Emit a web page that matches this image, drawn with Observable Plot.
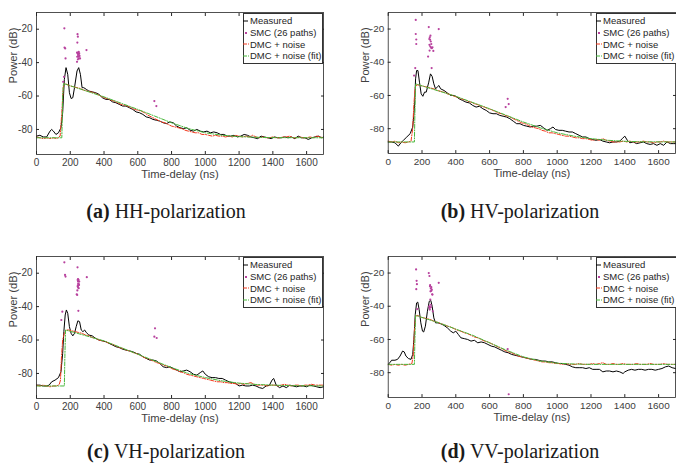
<!DOCTYPE html>
<html><head><meta charset="utf-8">
<script src="https://cdn.jsdelivr.net/npm/d3@7"></script>
<script src="https://cdn.jsdelivr.net/npm/@observablehq/plot@0.6"></script>
<style>
html,body{margin:0;padding:0;background:#fff;}
#wrap{position:relative;width:676px;height:466px;overflow:hidden;background:#fff;font-family:"Liberation Sans",Arial,sans-serif;}
.panel{position:absolute;}
.legend{position:absolute;box-sizing:border-box;background:#fff;border:1px solid #333;font-size:9.5px;color:#262626;padding-top:1px;white-space:nowrap;}
.legend .row{display:flex;align-items:center;height:11.7px;}
.legend svg{flex:none;}
.cap{position:absolute;font-family:"Liberation Serif","Times New Roman",serif;font-size:20px;line-height:20px;color:#1a1a1a;white-space:nowrap;transform:translateX(-50%);}
</style>
</head><body><div id="wrap"></div>
<script>
const xTicks = [0,200,400,600,800,1000,1200,1400,1600];
const yTicks = [-80,-60,-40,-20];
const legendLabels = ["Measured","SMC (26 paths)","DMC + noise","DMC + noise (fit)"];
const captionLetters = ["(a)","(b)","(c)","(d)"];
const captionTexts = ["HH-polarization","HV-polarization","VH-polarization","VV-polarization"];

// ---- (a) HH ----
const measuredHH = [[0,-84],[20,-83.5],[40,-84.5],[60,-84.5],[80,-81],[90,-80],[100,-81],[115,-83],[130,-82],[145,-79],[155,-70],[165,-50],[175,-43],[185,-47],[195,-58],[205,-61.5],[215,-61],[225,-55],[240,-45],[250,-43],[260,-47],[270,-55],[280,-55],[295,-56],[310,-57],[330,-57.5],[350,-58],[370,-59],[390,-61],[410,-62],[430,-62],[450,-63.5],[470,-64],[490,-65],[510,-66],[530,-66],[550,-67],[570,-68],[590,-69.5],[610,-70],[630,-71],[650,-72.5],[670,-73],[690,-74],[710,-74.5],[730,-75],[750,-76],[770,-76.5],[790,-75.5],[810,-76],[830,-78],[850,-79],[870,-79.5],[890,-79],[910,-80.5],[930,-81],[950,-80],[970,-81],[990,-81.5],[1010,-81],[1030,-82],[1050,-81.5],[1070,-82],[1090,-83],[1110,-83],[1130,-84],[1150,-84],[1170,-83.5],[1190,-84.5],[1210,-84],[1230,-83],[1250,-83.5],[1270,-84.5],[1290,-85],[1310,-85.5],[1330,-84],[1350,-84.5],[1370,-85],[1390,-85.5],[1410,-84.5],[1430,-85],[1450,-85],[1470,-84.5],[1490,-85],[1510,-84.5],[1530,-85.5],[1550,-84],[1570,-85],[1590,-85],[1610,-86],[1630,-85],[1650,-84.5],[1670,-84],[1690,-85],[1700,-84.5]];
const dmcHH = [[0,-84.5],[20,-85],[40,-85.5],[60,-85],[80,-85.5],[100,-85],[120,-85.5],[140,-84],[150,-70],[158,-55],[165,-52.5],[180,-53],[200,-54],[220,-54.5],[240,-55],[260,-55.5],[280,-56.5],[300,-57],[320,-57.5],[340,-58],[360,-59],[380,-60],[400,-61],[420,-61.5],[440,-62.5],[460,-63],[480,-64],[500,-65],[520,-65.5],[540,-66],[560,-67],[580,-68],[600,-68.5],[620,-69],[640,-70],[660,-71.5],[680,-72.5],[700,-73.5],[720,-74.5],[740,-75.5],[760,-76],[780,-77],[800,-78],[820,-78.5],[840,-79],[860,-79.5],[880,-80.5],[900,-81],[920,-81.5],[940,-82],[960,-82],[980,-83],[1000,-83],[1020,-83.5],[1040,-84],[1060,-83.5],[1080,-84],[1100,-84],[1120,-84.5],[1140,-84],[1160,-84.5],[1180,-83.5],[1200,-84],[1220,-84.5],[1240,-84],[1260,-84.5],[1280,-83.5],[1300,-84.5],[1320,-85],[1340,-84.5],[1360,-85],[1380,-85],[1400,-84.5],[1420,-85],[1440,-85],[1460,-84.5],[1480,-84.5],[1500,-84],[1520,-85],[1540,-85],[1560,-84.5],[1580,-85],[1600,-85],[1620,-84.5],[1640,-85],[1660,-84],[1680,-84.5],[1700,-85]];
const fitHH = [[0,-85],[150,-85],[155,-60],[160,-52.5],[400,-60.5],[600,-68],[700,-72],[800,-76],[900,-79.5],[1000,-82],[1100,-83.5],[1200,-84.3],[1300,-84.7],[1400,-84.9],[1700,-85]];
const smcHH = [[165,-19.5],[166,-31],[170,-31.5],[172,-37.5],[158,-51.5],[163,-48.5],[243,-23],[245,-24.5],[242,-28],[240,-34],[244,-34.5],[248,-34],[250,-35],[253,-34.5],[246,-35.5],[241,-36.5],[245,-38],[252,-37.5],[240,-39.5],[258,-37.5],[296,-32.5],[250,-33.5],[255,-36],[248,-36.5],[698,-63],[710,-66]];

// ---- (b) HV ----
const measuredHV = [[0,-88],[20,-88],[40,-88.5],[60,-90.5],[75,-88.5],[90,-87],[110,-85],[130,-83],[145,-79],[155,-68],[162,-50],[168,-45],[176,-45],[185,-52],[195,-59],[205,-60.5],[215,-58],[225,-58],[240,-52],[250,-47],[260,-48.5],[270,-53],[280,-56],[290,-55],[300,-54],[310,-56],[330,-57],[350,-58.5],[370,-60],[390,-60],[400,-60.5],[420,-62],[440,-63],[460,-64],[480,-64.5],[500,-66],[520,-67],[540,-66.5],[560,-68],[580,-69],[600,-70.5],[620,-71],[640,-71],[660,-72],[680,-72.5],[700,-73],[720,-74],[740,-75.5],[760,-77],[780,-77],[800,-78],[820,-78.5],[840,-79],[860,-78.5],[880,-78.5],[900,-78],[920,-79.5],[940,-81],[960,-80],[975,-79],[990,-80.5],[1010,-81],[1030,-81],[1050,-81.5],[1070,-82],[1090,-82],[1110,-83],[1130,-84],[1150,-85],[1170,-85],[1190,-86],[1210,-86.5],[1230,-87],[1250,-86.5],[1270,-87.5],[1290,-88],[1310,-88.5],[1330,-88],[1350,-88],[1370,-87.5],[1385,-86],[1400,-84.5],[1415,-87],[1430,-88.5],[1450,-88],[1470,-89],[1490,-88.5],[1510,-88],[1530,-89],[1550,-89.5],[1570,-89],[1590,-90],[1610,-89],[1630,-90],[1650,-88],[1670,-89],[1690,-89],[1700,-89]];
const dmcHV = [[0,-87.5],[20,-88],[40,-87.5],[60,-88.5],[80,-88],[100,-88.5],[120,-88],[135,-87.5],[145,-80],[152,-65],[160,-55],[170,-53.5],[190,-54],[210,-54.5],[230,-55],[250,-55.5],[270,-56],[290,-57],[310,-57.5],[330,-58],[350,-59],[370,-59.5],[390,-60.5],[410,-61],[430,-62],[450,-62.5],[470,-63.5],[490,-64],[510,-65],[530,-65.5],[550,-66.5],[570,-67],[590,-68],[610,-68.5],[630,-69.5],[650,-70.5],[670,-71],[690,-72],[710,-72.5],[730,-73.5],[750,-74.5],[770,-75.5],[790,-76.5],[810,-77],[830,-78],[850,-79],[870,-79.5],[890,-80],[910,-81],[930,-81.5],[950,-82.5],[970,-82.5],[990,-83],[1010,-83.5],[1030,-84],[1050,-84.5],[1070,-84.5],[1090,-85],[1110,-85.5],[1130,-85.5],[1150,-86],[1170,-86],[1190,-86.5],[1210,-87],[1230,-86.5],[1250,-87],[1270,-86],[1290,-87],[1310,-87.5],[1330,-88],[1350,-88],[1370,-88],[1390,-87.5],[1410,-88],[1430,-87.5],[1450,-88],[1470,-88],[1490,-88],[1510,-87.5],[1530,-88],[1550,-88],[1570,-88.5],[1590,-88],[1610,-88],[1630,-87.5],[1650,-88],[1670,-88],[1700,-88]];
const fitHV = [[0,-88],[155,-88],[158,-70],[162,-53],[400,-60.5],[600,-68],[800,-76],[900,-79.5],[1000,-82.5],[1100,-84.5],[1200,-86],[1300,-87],[1400,-87.6],[1500,-87.9],[1700,-88]];
const smcHV = [[163,-14.5],[163,-23],[166,-26.3],[166,-29],[153,-48],[160,-43.5],[240,-18.8],[246,-25],[243,-26],[252,-27.5],[244,-29.5],[249,-30.5],[254,-31.2],[258,-31.5],[236,-36.6],[267,-33.2],[299,-20],[257,-43.5],[250,-24],[248,-26.5],[262,-31],[245,-33],[255,-29],[695,-67],[707,-62],[713,-65.2]];

// ---- (c) VH ----
const measuredVH = [[0,-87],[20,-87],[40,-87.5],[60,-87.5],[75,-87],[90,-85],[110,-84],[130,-82.5],[145,-79],[155,-68],[162,-55],[170,-45],[177,-42],[185,-44],[195,-52],[205,-56],[215,-57.5],[225,-56],[235,-52],[245,-48.5],[255,-49],[265,-54],[275,-55],[285,-54],[295,-55.5],[310,-57],[330,-57.5],[350,-59],[370,-60],[390,-60.5],[410,-61],[430,-62],[450,-63],[470,-64],[490,-64.5],[510,-65.5],[530,-66],[550,-66.5],[570,-67],[590,-68],[610,-68.5],[630,-70],[650,-71],[670,-72],[690,-72],[710,-72.5],[730,-74],[750,-76],[770,-76.5],[790,-76],[810,-77],[830,-78],[850,-79],[870,-78.5],[890,-78],[910,-79],[930,-80.5],[950,-81],[970,-79.5],[985,-78.5],[1000,-80.5],[1020,-82],[1040,-82.5],[1060,-82.5],[1080,-83],[1100,-83],[1120,-84],[1140,-85],[1160,-85.5],[1180,-86],[1200,-87.5],[1220,-87],[1240,-87.5],[1260,-87.5],[1280,-87],[1300,-87.5],[1320,-88.5],[1340,-89],[1360,-87.5],[1380,-87],[1395,-84],[1405,-83],[1420,-87],[1440,-88.5],[1460,-87.5],[1480,-88.5],[1500,-87],[1520,-87.5],[1540,-88],[1560,-87.5],[1580,-87.5],[1600,-88],[1620,-87],[1640,-87.5],[1660,-88],[1680,-88.5],[1700,-88]];
const dmcVH = [[0,-87],[20,-87.5],[40,-87],[60,-87.5],[80,-88],[100,-87.5],[120,-87.5],[135,-86.5],[142,-84],[148,-70],[155,-60],[165,-56],[175,-54],[190,-54],[210,-54.5],[230,-55],[250,-55.5],[270,-56],[290,-57],[310,-57.5],[330,-58.5],[350,-59],[370,-60],[390,-60.5],[410,-61],[430,-62],[450,-62.5],[470,-63.5],[490,-64.5],[510,-65],[530,-66],[550,-66.5],[570,-67.5],[590,-68],[610,-69],[630,-70],[650,-71],[670,-71.5],[690,-72.5],[710,-73.5],[730,-74],[750,-75],[770,-75.5],[790,-76.5],[810,-77.5],[830,-78],[850,-79],[870,-79.5],[890,-80.5],[910,-81],[930,-81.5],[950,-82],[970,-82.5],[990,-83],[1010,-83.5],[1030,-84],[1050,-84.5],[1070,-85],[1090,-85],[1110,-85.5],[1130,-85.5],[1150,-86],[1170,-86],[1190,-86.5],[1210,-86],[1230,-86.5],[1250,-86],[1270,-85.5],[1290,-86.5],[1310,-87],[1330,-87],[1350,-87],[1370,-87.5],[1390,-87],[1410,-87],[1430,-87.5],[1450,-87],[1470,-86.5],[1490,-87],[1510,-87.5],[1530,-87],[1550,-87],[1570,-87.5],[1590,-87],[1610,-87],[1630,-86.5],[1650,-87],[1670,-87],[1700,-87]];
const fitVH = [[0,-87.5],[165,-87.5],[168,-70],[172,-54],[400,-60.5],[600,-68.5],[800,-76.5],[900,-80],[1000,-82.5],[1100,-84.5],[1200,-85.8],[1300,-86.6],[1400,-87],[1500,-87.3],[1700,-87.5]];
const smcVH = [[165,-13.5],[169,-21],[172,-22],[153,-43],[147,-48],[243,-16.5],[246,-23.5],[249,-24],[247,-26.3],[245,-27.3],[252,-27],[242,-30.3],[238,-32.6],[250,-29],[248,-42.5],[298,-22.4],[244,-28],[250,-26.5],[246,-25],[253,-25],[241,-33],[247,-28.5],[244,-24],[702,-53],[698,-58],[712,-58.8]];

// ---- (d) VV ----
const measuredVV = [[0,-75],[10,-74],[20,-72.5],[40,-72.5],[55,-72],[70,-70],[85,-67],[95,-67.5],[105,-70],[120,-71.5],[135,-72],[145,-69],[152,-60],[160,-45],[168,-38],[175,-37.5],[183,-42],[193,-50],[203,-55],[210,-55.5],[220,-52],[232,-43],[243,-37],[252,-36.5],[260,-40],[270,-47],[280,-50],[295,-50],[310,-50.5],[330,-51.5],[350,-53],[370,-55],[385,-56],[400,-55],[415,-57],[430,-59],[450,-59.5],[470,-60],[490,-61],[510,-60.5],[530,-62],[550,-61.5],[570,-62],[590,-63],[610,-64],[630,-64.5],[650,-65.5],[670,-66.5],[690,-67.5],[710,-68],[730,-69],[750,-69.5],[770,-70],[790,-70.5],[810,-71],[830,-71.5],[850,-72],[870,-72],[890,-72.5],[910,-73],[930,-73],[950,-73.5],[970,-73.5],[990,-74],[1010,-74.5],[1030,-74.5],[1050,-75],[1070,-75.5],[1090,-76.5],[1110,-77],[1130,-77],[1150,-77],[1170,-77.5],[1190,-77],[1210,-78],[1230,-78],[1250,-78],[1270,-79.5],[1290,-79],[1310,-79],[1330,-79.5],[1350,-79],[1370,-79.5],[1390,-80.5],[1400,-79.5],[1420,-78.5],[1440,-78],[1460,-78.5],[1480,-78],[1500,-78],[1520,-78.5],[1540,-78],[1560,-78],[1580,-78.5],[1600,-78],[1620,-77.5],[1640,-76.5],[1660,-76],[1680,-77],[1700,-77.5]];
const dmcVV = [[0,-75],[20,-75.5],[40,-75],[60,-75.5],[80,-75],[100,-75.5],[120,-75],[140,-74.5],[148,-70],[155,-55],[162,-46],[175,-45.5],[190,-46.5],[210,-47],[230,-47.5],[250,-48],[270,-49],[290,-49.5],[310,-50.5],[330,-51],[350,-52],[370,-52.5],[390,-53.5],[410,-54.5],[430,-55],[450,-56],[470,-56.5],[490,-57.5],[510,-58.5],[530,-59],[550,-60],[570,-61],[590,-61.5],[610,-62.5],[630,-63.5],[650,-64.5],[670,-65.5],[690,-66.5],[710,-67.5],[730,-68],[750,-69],[770,-70],[790,-70.5],[810,-71],[830,-71.5],[850,-72],[870,-72.5],[890,-73],[910,-73.5],[930,-73.5],[950,-74],[970,-74],[990,-74.5],[1010,-74.5],[1030,-75],[1050,-74.5],[1070,-75],[1090,-75],[1110,-75],[1130,-74.5],[1150,-75],[1170,-75],[1190,-75],[1210,-74.5],[1230,-75],[1250,-74.5],[1270,-74],[1290,-75],[1310,-75],[1330,-74.5],[1350,-75],[1370,-75],[1390,-74.5],[1410,-75],[1430,-75],[1450,-75],[1470,-74.5],[1490,-75],[1510,-75],[1530,-75],[1550,-74.5],[1570,-75],[1590,-75],[1610,-75],[1630,-74.5],[1650,-75],[1670,-75],[1700,-75]];
const fitVV = [[0,-75],[155,-75],[158,-60],[162,-45.5],[300,-50],[500,-57.5],[700,-66.5],[800,-70.5],[900,-73],[1000,-74.3],[1100,-74.8],[1200,-75],[1700,-75]];
const smcVV = [[165,-17.8],[168,-24.7],[170,-26.7],[166,-29.7],[172,-41.7],[240,-20],[244,-21.8],[248,-27.3],[252,-29.3],[255,-30.7],[260,-32.8],[245,-41],[251,-39.1],[264,-43],[299,-25.9],[247,-28],[250,-31],[255,-28.5],[242,-40],[249,-36],[258,-30],[253,-40.5],[246,-42],[262,-33],[707,-65.8],[713,-93]];

const COL_MEAS = "#000000", COL_SMC = "#b8429e", COL_DMC = "#f2381c", COL_FIT = "#47b83a";
const AX = "#262626";
const TXT = "#404040";

const panels = [
  {meas: measuredHH, dmc: dmcHH, fit: fitHH, smc: smcHH, left: 0,   top: 0,   width: 338, mL: 36, mR: 15, legLeft: 243, legWidth: 80, capX: 166, capY: 201},
  {meas: measuredHV, dmc: dmcHV, fit: fitHV, smc: smcHV, left: 338, top: 0,   width: 340, mL: 50, mR: 1,  legLeft: 596, legWidth: 82, capX: 520, capY: 201},
  {meas: measuredVH, dmc: dmcVH, fit: fitVH, smc: smcVH, left: 0,   top: 244, width: 338, mL: 36, mR: 15, legLeft: 243, legWidth: 80, capX: 166, capY: 441},
  {meas: measuredVV, dmc: dmcVV, fit: fitVV, smc: smcVV, left: 338, top: 244, width: 340, mL: 50, mR: 1,  legLeft: 596, legWidth: 82, capX: 520, capY: 441}
];

const wrap = document.getElementById("wrap");
const fmt = d => String(d);

panels.forEach((p, i) => {
  const svg = Plot.plot({
    width: p.width, height: 190,
    marginLeft: p.mL, marginRight: p.mR, marginTop: 12, marginBottom: 36,
    style: {fontFamily: "Liberation Sans, Arial, sans-serif", fontSize: "10px", color: TXT, background: "transparent", overflow: "visible"},
    x: {domain: [0, 1700]},
    y: {domain: [-95, -10]},
    marks: [
      Plot.line(p.meas, {x: d => d[0], y: d => d[1], stroke: COL_MEAS, strokeWidth: 1}),
      Plot.dot(p.smc, {x: d => d[0], y: d => d[1], r: 1.1, fill: COL_SMC, stroke: "none"}),
      Plot.line(p.dmc, {x: d => d[0], y: d => d[1], stroke: COL_DMC, strokeWidth: 1, strokeDasharray: "4,1.5,1,1.5"}),
      Plot.line(p.fit, {x: d => d[0], y: d => d[1], stroke: COL_FIT, strokeWidth: 1, strokeDasharray: "4,1.5,1,1.5"}),
      Plot.frame({stroke: AX, strokeWidth: 0.8}),
      Plot.axisX(xTicks, {anchor: "bottom", tickSize: 0, tickPadding: 4, tickFormat: fmt, label: null, fill: TXT}),
      Plot.axisX(xTicks, {anchor: "bottom", tickSize: 3, dy: -3, tickFormat: () => "", label: null, stroke: AX}),
      Plot.axisX(xTicks, {anchor: "top", tickSize: 3, dy: 3, tickFormat: () => "", label: null, stroke: AX}),
      Plot.axisY(yTicks, {anchor: "left", tickSize: 0, tickPadding: 4, tickFormat: fmt, label: null, fill: TXT}),
      Plot.axisY(yTicks, {anchor: "left", tickSize: 3, dx: 3, tickFormat: () => "", label: null, stroke: AX}),
      Plot.axisY(yTicks, {anchor: "right", tickSize: 3, dx: -3, tickFormat: () => "", label: null, stroke: AX}),
      Plot.text(["Time-delay (ns)"], {text: d => d, frameAnchor: "bottom", dy: 23.5, fontSize: 11.2, fill: TXT}),
      Plot.text(["Power (dB)"], {text: d => d, frameAnchor: "left", rotate: -90, dx: -23, fontSize: 11.2, fill: TXT})
    ]
  });
  const div = document.createElement("div");
  div.className = "panel";
  div.style.left = p.left + "px";
  div.style.top = p.top + "px";
  div.appendChild(svg);
  wrap.appendChild(div);

  // legend
  const leg = document.createElement("div");
  leg.className = "legend";
  leg.style.left = p.legLeft + "px";
  leg.style.top = (p.top + 13) + "px";
  leg.style.width = p.legWidth + "px";
  leg.style.height = "51px";
  const samples = [
    `<line x1="0" x2="5" y1="4" y2="4" stroke="${COL_MEAS}" stroke-width="1"/>`,
    `<rect x="2" y="3" width="2" height="2" fill="${COL_SMC}"/>`,
    `<line x1="0" x2="4" y1="4" y2="4" stroke="${COL_DMC}" stroke-width="1"/><rect x="5" y="3.5" width="1" height="1" fill="${COL_DMC}"/>`,
    `<line x1="0" x2="4" y1="4" y2="4" stroke="${COL_FIT}" stroke-width="1"/><rect x="5" y="3.5" width="1" height="1" fill="${COL_FIT}"/>`
  ];
  leg.innerHTML = legendLabels.map((t, k) =>
    `<div class="row"><svg width="7" height="8" style="margin-left:-1px">${samples[k]}</svg><span>${t}</span></div>`
  ).join("");
  wrap.appendChild(leg);

  // caption
  const cap = document.createElement("div");
  cap.className = "cap";
  cap.style.left = p.capX + "px";
  cap.style.top = p.capY + "px";
  cap.innerHTML = `<b>${captionLetters[i]}</b> ${captionTexts[i]}`;
  wrap.appendChild(cap);
});
</script>
</body></html>
